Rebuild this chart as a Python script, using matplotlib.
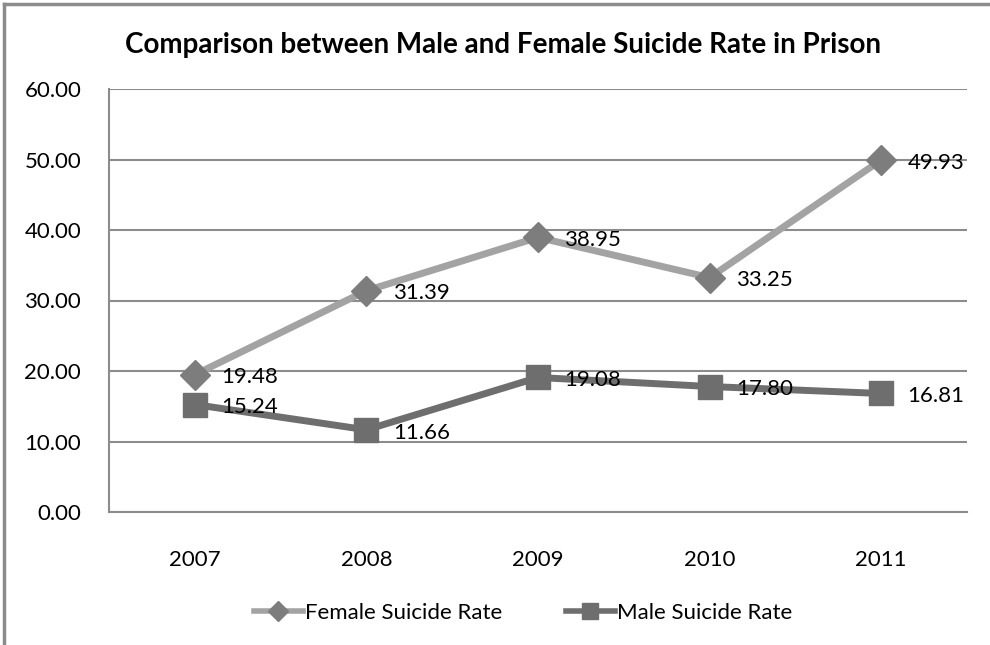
import matplotlib.pyplot as plt
from matplotlib.lines import Line2D

years = ["2007", "2008", "2009", "2010", "2011"]
female_rate = [19.48, 31.39, 38.95, 33.25, 49.93]
male_rate = [15.24, 11.66, 19.08, 17.80, 16.81]

plt.rcParams['font.family'] = ['Lato', 'DejaVu Sans']

fig = plt.figure(figsize=(9.9, 6.45), dpi=100)
ax = fig.add_axes([109 / 990, 1 - 512 / 645, 858 / 990, 423 / 645])

x = range(len(years))
ax.plot(x, female_rate, color='#a3a3a3', linewidth=5, marker='D', markersize=15,
        markerfacecolor='#7d7d7d', markeredgecolor='#7d7d7d', zorder=3)
ax.plot(x, male_rate, color='#6e6e6e', linewidth=5, marker='s', markersize=17,
        markerfacecolor='#6e6e6e', markeredgecolor='#6e6e6e', zorder=3)

# data labels to the right of each point
for i, v in enumerate(female_rate):
    ax.annotate(f"{v:.2f}", (i, v), xytext=(19, -2), textcoords='offset points',
                ha='left', va='center', fontsize=16, color='black', zorder=4)
for i, v in enumerate(male_rate):
    ax.annotate(f"{v:.2f}", (i, v), xytext=(19, -2), textcoords='offset points',
                ha='left', va='center', fontsize=16, color='black', zorder=4)

ax.set_xlim(-0.5, 4.5)
ax.set_ylim(0, 60)
ax.set_yticks(range(0, 61, 10))
ax.set_yticklabels([f"{t:.2f}" for t in range(0, 61, 10)])
ax.set_xticks(list(x))
ax.set_xticklabels(years)
ax.tick_params(axis='both', length=0, labelsize=16, colors='black')
ax.tick_params(axis='y', pad=20)
ax.tick_params(axis='x', pad=27)
ax.grid(axis='y', color='#8c8c8c', linewidth=1.5)
ax.set_axisbelow(True)
for side in ['top', 'right']:
    ax.spines[side].set_visible(False)
for side in ['left', 'bottom']:
    ax.spines[side].set_color('#8c8c8c')
    ax.spines[side].set_linewidth(1.5)

fig.text(503 / 990, 1 - 45 / 645, "Comparison between Male and Female Suicide Rate in Prison",
         ha='center', va='center', fontsize=20, fontweight='bold')

handles = [
    Line2D([], [], color='#a3a3a3', linewidth=4, marker='D', markersize=10,
           markerfacecolor='#7d7d7d', markeredgecolor='#7d7d7d'),
    Line2D([], [], color='#6e6e6e', linewidth=4, marker='s', markersize=11,
           markerfacecolor='#6e6e6e', markeredgecolor='#6e6e6e'),
]
fig.legend(handles, ["Female Suicide Rate", "Male Suicide Rate"], loc='center',
           bbox_to_anchor=(523 / 990, 1 - 613 / 645), ncol=2, frameon=False,
           fontsize=16, handlelength=2.2, handletextpad=0.1, columnspacing=2.85)

# outer chart border (left and top edges)
fig.add_artist(Line2D([4 / 990, 4 / 990], [0, 1 - 4 / 645], color='#8c8c8c', linewidth=2.5))
fig.add_artist(Line2D([4 / 990, 1], [1 - 4 / 645, 1 - 4 / 645], color='#8c8c8c', linewidth=2.5))

fig.savefig("out.png", dpi=100)
